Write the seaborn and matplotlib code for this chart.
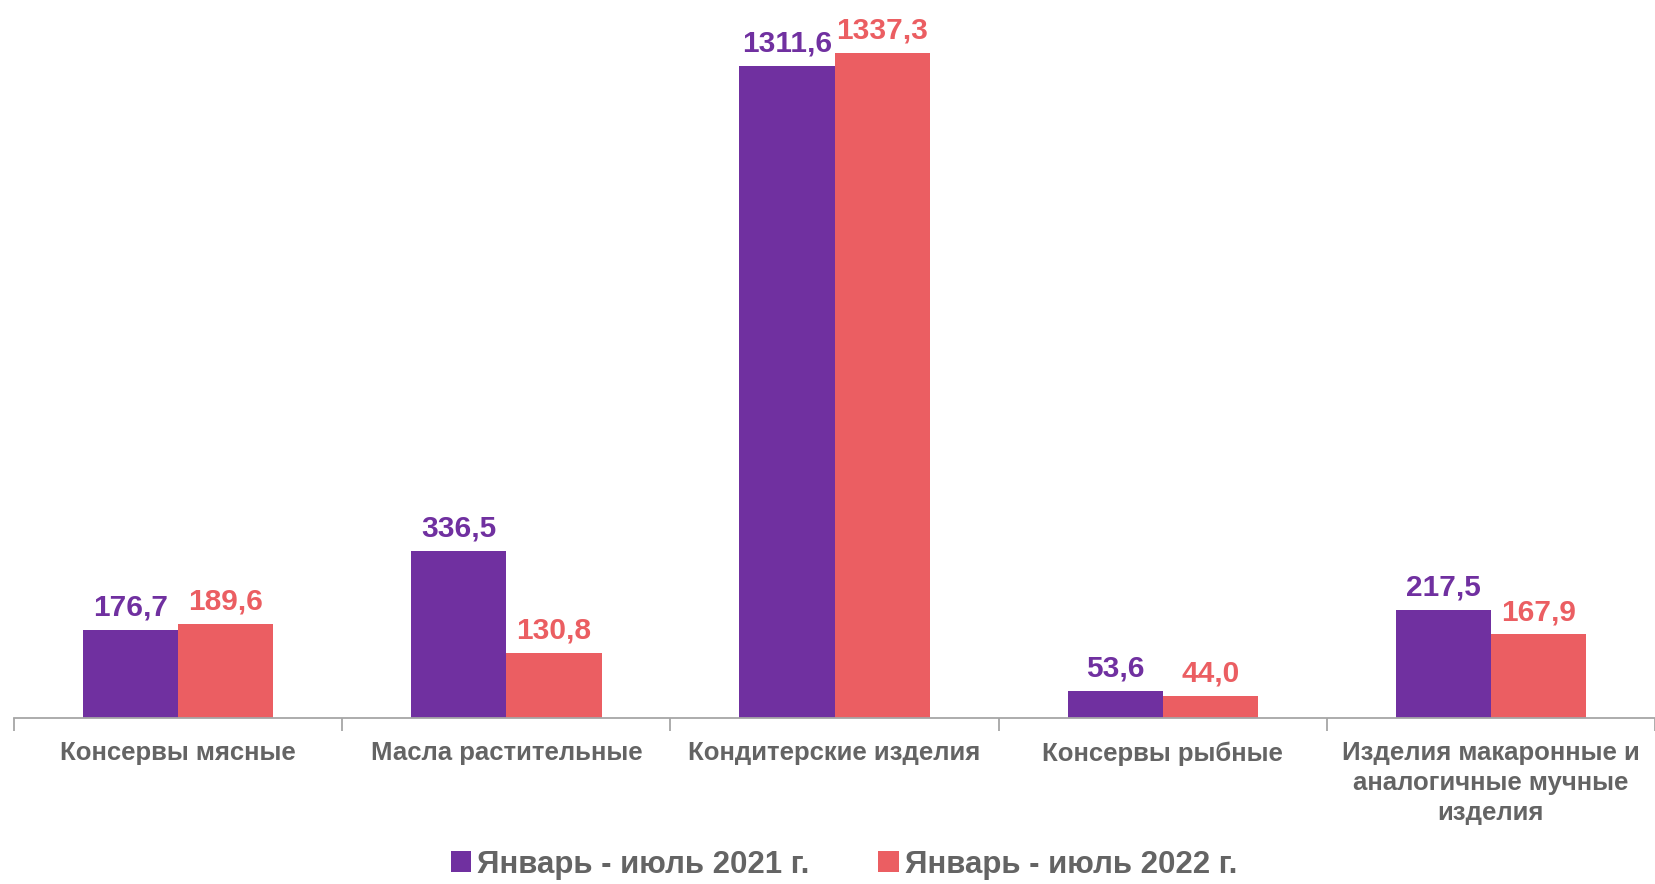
import pandas as pd
import seaborn as sns
import matplotlib.pyplot as plt
from matplotlib.ticker import FixedLocator

# Data
categories = ['Консервы мясные', 'Масла растительные', 'Кондитерские изделия',
              'Консервы рыбные', 'Изделия макаронные и\nаналогичные мучные\nизделия']
values_2021 = [176.7, 336.5, 1311.6, 53.6, 217.5]
values_2022 = [189.6, 130.8, 1337.3, 44.0, 167.9]
series = ['Январь - июль 2021 г.', 'Январь - июль 2022 г.']

data = pd.DataFrame({
    'category': categories * 2,
    'value': values_2021 + values_2022,
    'period': [series[0]] * 5 + [series[1]] * 5,
})

sns.set_style('white')
plt.rcParams['font.family'] = ['Liberation Sans', 'DejaVu Sans']

colors = ['#7030A0', '#EB5E62']
grey = '#646464'

fig = plt.figure(figsize=(16.55, 8.84), dpi=100)
ax = fig.add_axes([0.0085, 0.188, 0.9915, 0.812])

sns.barplot(data=data, x='category', y='value', hue='period', palette=colors,
            width=0.58, saturation=1, linewidth=0, ax=ax, legend=True)

# value labels
for container, col in zip(ax.containers, colors):
    labels = [f'{v:.1f}'.replace('.', ',') for v in container.datavalues]
    ax.bar_label(container, labels=labels, padding=6, color=col,
                 fontsize=21.5, fontweight='bold')

ax.set_xlim(-0.5, 4.5)
ax.set_ylim(0, 1444)
ax.set_xlabel('')
ax.set_ylabel('')
ax.set_yticks([])

for s in ['top', 'right', 'left']:
    ax.spines[s].set_visible(False)
ax.spines['bottom'].set_color('#A6A6A6')
ax.spines['bottom'].set_linewidth(1.3)

ax.tick_params(axis='x', which='major', length=0, pad=17, labelsize=18.5,
               labelcolor=grey)
ax.xaxis.set_minor_locator(FixedLocator([-0.5, 0.5, 1.5, 2.5, 3.5, 4.5]))
ax.tick_params(axis='x', which='minor', bottom=True, length=9, color='#A6A6A6',
               width=1.3, direction='out')
for lbl in ax.get_xticklabels():
    lbl.set_fontweight('bold')
    lbl.set_verticalalignment('top')
    lbl.set_multialignment('center')
    lbl.set_linespacing(1.3)

handles, labs = ax.get_legend_handles_labels()
ax.get_legend().remove()
fig.legend(handles, labs, loc='center', bbox_to_anchor=(0.51, 0.022), ncol=2,
           frameon=False, handlelength=0.65, handleheight=0.65, handletextpad=0.2,
           columnspacing=2.2, borderpad=0.1, prop={'size': 22.5, 'weight': 'bold'},
           labelcolor=grey)

fig.savefig('out.png', dpi=100)
